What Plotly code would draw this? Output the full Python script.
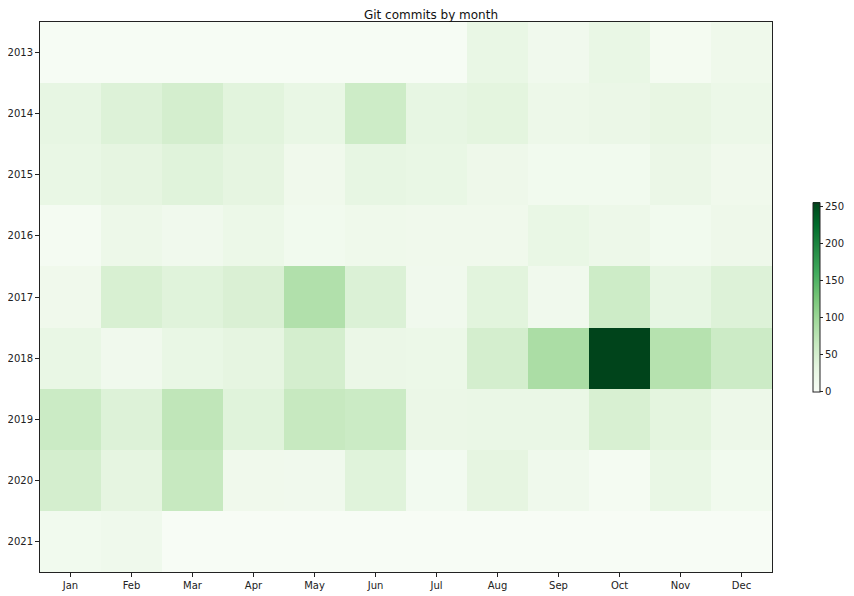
import plotly.graph_objects as go

MONTHS = ["Jan", "Feb", "Mar", "Apr", "May", "Jun",
          "Jul", "Aug", "Sep", "Oct", "Nov", "Dec"]
YEARS = ["2013", "2014", "2015", "2016", "2017", "2018", "2019", "2020", "2021"]

# commits per month, one row per year
COMMITS_2013 = [1, 1, 1, 1, 1, 1, 2, 25, 12, 25, 6, 15]
COMMITS_2014 = [28, 40, 50, 35, 25, 57, 28, 33, 18, 21, 27, 20]
COMMITS_2015 = [25, 30, 37, 30, 13, 28, 25, 16, 11, 11, 21, 13]
COMMITS_2016 = [5, 18, 12, 19, 10, 15, 13, 13, 25, 18, 10, 16]
COMMITS_2017 = [13, 46, 37, 44, 82, 42, 12, 35, 12, 57, 28, 40]
COMMITS_2018 = [25, 12, 25, 30, 50, 22, 20, 50, 87, 255, 78, 58]
COMMITS_2019 = [59, 40, 70, 37, 64, 59, 21, 23, 23, 46, 33, 18]
COMMITS_2020 = [50, 30, 64, 13, 12, 37, 8, 30, 14, 5, 25, 11]
COMMITS_2021 = [11, 14, 0, 0, 0, 0, 0, 0, 0, 0, 0, 0]

COLORBAR_TICKS = [0, 50, 100, 150, 200, 250]

# matplotlib "Greens"
GREENS = [
    [0.0, "#f7fcf5"], [0.125, "#e5f5e0"], [0.25, "#c7e9c0"],
    [0.375, "#a1d99b"], [0.5, "#74c476"], [0.625, "#41ab5d"],
    [0.75, "#238b45"], [0.875, "#006d2c"], [1.0, "#00441b"],
]

z = [COMMITS_2013, COMMITS_2014, COMMITS_2015, COMMITS_2016, COMMITS_2017,
     COMMITS_2018, COMMITS_2019, COMMITS_2020, COMMITS_2021]

fig = go.Figure(
    go.Heatmap(
        z=z,
        x=MONTHS,
        y=YEARS,
        colorscale=GREENS,
        zmin=0,
        zmax=max(max(row) for row in z),
        hovertemplate="%{y} %{x}: %{z}<extra></extra>",
        colorbar=dict(
            x=0.9496,
            xanchor="left",
            xpad=0,
            y=0.5,
            yanchor="middle",
            ypad=0,
            lenmode="pixels",
            len=189,
            thickness=7,
            outlinewidth=1,
            outlinecolor="#222",
            tickvals=COLORBAR_TICKS,
            ticks="outside",
            ticklen=3,
            tickcolor="#222",
            tickfont=dict(size=10, color="#222"),
        ),
    )
)

axis_style = dict(
    showline=True,
    mirror=True,
    linecolor="#222",
    linewidth=1,
    ticks="outside",
    ticklen=4,
    tickcolor="#222",
    tickfont=dict(size=10, color="#222"),
    showgrid=False,
    zeroline=False,
    automargin=False,
)

fig.update_xaxes(domain=[0, 0.8993], **axis_style)
fig.update_yaxes(autorange="reversed", type="category", **axis_style)

# the page adds an 8px body margin, so the figure is 8px smaller each way
fig.update_layout(
    width=846,
    height=588,
    title=dict(text="Git commits by month", x=0.5, xanchor="center",
               y=0.9949, yanchor="top", pad=dict(t=0, b=0),
               font=dict(size=12, color="#111")),
    font=dict(family="DejaVu Sans"),
    paper_bgcolor="white",
    plot_bgcolor="white",
    margin=dict(l=32, r=0, t=14, b=24),
)

fig.write_html("out.html")
